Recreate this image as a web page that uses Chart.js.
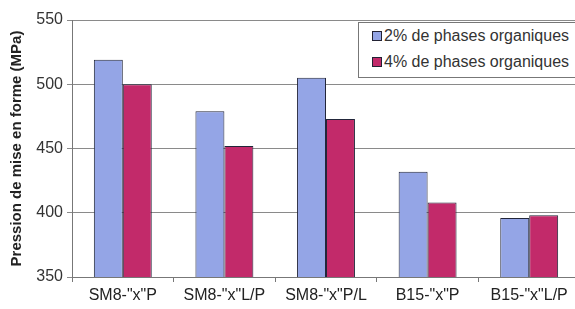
<!DOCTYPE html>
<html>
<head>
<meta charset="utf-8">
<script src="https://cdn.jsdelivr.net/npm/chart.js@4.4.1/dist/chart.umd.min.js"></script>
<style>
  html, body { margin: 0; padding: 0; background: #fff; overflow: hidden; }
  #wrap { position: relative; width: 583px; height: 309px; }
  #legend {
    position: absolute; left: 358px; top: 22px; width: 230px; height: 54px;
    border: 1px solid #777; background: #fff;
    font-family: "Liberation Sans", Arial, sans-serif; font-size: 16px; color: #333;
  }
  #legend div { position: absolute; left: 13px; height: 18px; line-height: 18px; white-space: nowrap; }
  #legend span.box { display: inline-block; width: 8px; height: 8px; border: 1px solid #223; margin-right: 2px; vertical-align: 0px; }
</style>
</head>
<body>
<div id="wrap">
  <canvas id="chart" width="583" height="309"></canvas>
  <div id="legend"></div>
</div>
<script>
// categories
var categories = ['SM8-"x"P', 'SM8-"x"L/P', 'SM8-"x"P/L', 'B15-"x"P', 'B15-"x"L/P'];

// series values (MPa)
var seriesNames = ['2% de phases organiques', '4% de phases organiques'];
var values2 = [519, 479, 505, 432, 396];
var values4 = [500, 452, 473, 408, 398];
var colors = ['#94a5e6', '#c22a6a'];

var font = { family: '"Liberation Sans", Arial, sans-serif', size: 16 };

var datasets = [{
    label: seriesNames[0],
    data: values2,
    backgroundColor: colors[0],
    borderColor: '#22263a',
    borderWidth: 1,
  },
  {
    label: seriesNames[1],
    data: values4,
    backgroundColor: colors[1],
    borderColor: '#22263a',
    borderWidth: 1,
  }
]

var scales = {
  x: {
    grid: {
      offset: true,
      drawOnChartArea: false,
      tickLength: 5,
      color: '#777',
    },
    border: { color: '#777' },
    ticks: { color: '#222', font: font, padding: 4, maxRotation: 0 },
    afterFit: function (s) { s.height = 32; }
  },
  y: {
    min: 350,
    max: 550,
    ticks: { stepSize: 50, color: '#333', font: font, padding: 4 },
    grid: { color: '#8a8a8a', tickLength: 5 },
    border: { color: '#777' },
    title: {
      display: true,
      text: 'Pression de mise en forme (MPa)',
      color: '#222',
      font: { family: '"Liberation Sans", Arial, sans-serif', size: 15, weight: 'bold' },
      padding: { top: 0, bottom: 6 }
    },
    afterFit: function (s) { s.width = 64; }
  }
};

var options = {
  responsive: false,
  animation: false,
  layout: { padding: { left: 8, top: 20, right: 3, bottom: 0 } },
  datasets: { bar: { categoryPercentage: 0.57, barPercentage: 1 } },
  plugins: {
    legend: { display: false },
    tooltip: { enabled: false }
  },
  scales: scales
}

var chart = new Chart(document.getElementById('chart'), {
  type: 'bar',
  data: { labels: categories, datasets: datasets },
  options: options
});

// html legend built from the datasets
var legend = document.getElementById('legend');
datasets.forEach(function (d, i) {
  var row = document.createElement('div');
  row.style.top = (4 + i * 26) + 'px';
  row.innerHTML = '<span class="box" style="background:' + d.backgroundColor + '"></span>' + d.label;
  legend.appendChild(row);
});
</script>
</body>
</html>
